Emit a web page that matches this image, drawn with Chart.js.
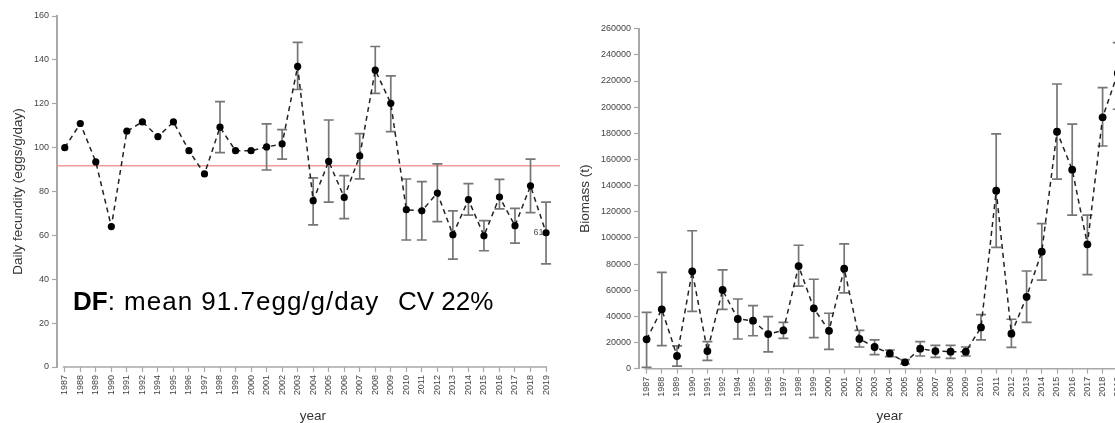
<!DOCTYPE html>
<html>
<head>
<meta charset="utf-8">
<script src="https://cdn.jsdelivr.net/npm/chart.js@4"></script>
<style>
  html, body { margin: 0; padding: 0; background: #fff; }
  body { width: 1115px; height: 423px; overflow: hidden; position: relative; }
  #left { position: absolute; left: 0; top: 0; }
  #right { position: absolute; left: 560px; top: 0; }
</style>
</head>
<body>
<canvas id="left" width="560" height="423"></canvas>
<canvas id="right" width="600" height="423"></canvas>
<script>
// survey years (1993 not sampled)
const years = ["1987", "1988", "1989", "1990", "1991", "1992", "1994", "1995",
  "1996", "1997", "1998", "1999", "2000", "2001", "2002", "2003", "2004", "2005",
  "2006", "2007", "2008", "2009", "2010", "2011", "2012", "2013", "2014", "2015",
  "2016", "2017", "2018", "2019"];

// daily fecundity (eggs/g/day)
const fecundity = [100, 111, 93.5, 64, 107.5, 111.7, 105, 111.7, 98.6, 88,
  109.3, 98.6, 98.6, 100.3, 101.7, 137, 75.8, 93.7, 77.3, 96.2, 135.3, 120.2,
  71.7, 71.2, 79.3, 60.3, 76.3, 59.8, 77.5, 64.4, 82.6, 61.2];
const fecundityHi = [null, null, null, null, null, null, null, null, null, null,
  121, null, null, 110.8, 108.2, 148, 86.2, 112.6, 87.2, 106.4, 146.1, 132.7,
  85.7, 84.5, 92.6, 71.2, 83.6, 66.7, 85.5, 72.3, 94.8, 75.2];
const fecundityLo = [null, null, null, null, null, null, null, null, null, null,
  97.7, null, null, 89.8, 94.8, 126.5, 64.8, 75.2, 67.6, 85.8, 124.7, 107.3,
  57.9, 57.9, 66.3, 49.2, 69.2, 53, 72.1, 56.5, 70.4, 47];
const fecundityMean = 91.7;

// spawning biomass (t)
const biomass = [22500, 45400, 9700, 74500, 13500, 60200, 38000, 36700, 26500,
  29300, 78500, 46200, 29000, 76500, 22800, 16600, 11700, 4900, 15300, 13500,
  13000, 13000, 31600, 136100, 26800, 55000, 89500, 181200, 152200, 95100,
  192200, 226000];
const biomassHi = [43100, 73700, 17400, 105500, 20700, 75500, 53300, 48200,
  39800, 35500, 94400, 68400, 42400, 95400, 29300, 22000, 14300, 6900, 20700,
  17900, 17900, 16600, 41300, 179500, 37800, 74700, 110900, 217700, 187100,
  117500, 214900, 249300];
const biomassLo = [1000, 17600, 2000, 43900, 6400, 45400, 22700, 25200, 12800,
  23200, 63200, 23700, 14800, 58000, 16600, 10700, 9200, 3600, 9700, 8700, 7900,
  9700, 22000, 92800, 16300, 35500, 67800, 145000, 117500, 71900, 170300, 198400];

Chart.defaults.font.family = "'Liberation Sans', Arial, sans-serif";
Chart.defaults.color = "#333";

const AXIS = "#a8a8a8";

// vertical error bars with caps, drawn under the line
const errorBars = {
  id: "errorBars",
  beforeDatasetsDraw(chart, args, opts) {
    const { ctx, scales: { x, y } } = chart;
    ctx.save();
    ctx.strokeStyle = "#767676";
    ctx.lineWidth = 1.7;
    opts.hi.forEach((hi, i) => {
      const lo = opts.lo[i];
      if (hi == null || lo == null) return;
      const px = x.getPixelForValue(i);
      const yt = y.getPixelForValue(hi);
      const yb = y.getPixelForValue(lo);
      ctx.beginPath();
      ctx.moveTo(px, yt); ctx.lineTo(px, yb);
      ctx.moveTo(px - 5, yt); ctx.lineTo(px + 5, yt);
      ctx.moveTo(px - 5, yb); ctx.lineTo(px + 5, yb);
      ctx.stroke();
    });
    ctx.restore();
  },
};

// x axis line running between first and last tick, plus the "year" title
const xAxisLine = {
  id: "xAxisLine",
  afterDraw(chart) {
    const { ctx, chartArea, scales: { x } } = chart;
    const x0 = x.getPixelForValue(0) - 2;
    const x1 = x.getPixelForValue(years.length - 1) + 1;
    ctx.save();
    ctx.strokeStyle = AXIS;
    ctx.lineWidth = 1.5;
    ctx.beginPath();
    ctx.moveTo(x0, chartArea.bottom);
    ctx.lineTo(x1, chartArea.bottom);
    ctx.stroke();

    ctx.fillStyle = "#333";
    ctx.font = "13.5px 'Liberation Sans', Arial";
    ctx.textAlign = "center";
    ctx.textBaseline = "alphabetic";
    ctx.fillText("year", (x0 + x1) / 2 + 8, 420);
    ctx.restore();
  },
};

const meanLine = {
  id: "meanLine",
  beforeDatasetsDraw(chart) {
    const { ctx, chartArea, scales: { y } } = chart;
    const py = y.getPixelForValue(fecundityMean);
    ctx.save();
    ctx.strokeStyle = "#f29a9a";
    ctx.lineWidth = 1.5;
    ctx.beginPath();
    ctx.moveTo(chartArea.left, py);
    ctx.lineTo(chartArea.right + 16, py);
    ctx.stroke();
    ctx.restore();
  },
};

const dfNote = {
  id: "dfNote",
  afterDraw(chart) {
    const { ctx, scales: { x, y } } = chart;
    ctx.save();
    ctx.fillStyle = "#000";
    ctx.textBaseline = "alphabetic";
    ctx.font = "bold 26px 'Liberation Sans', Arial";
    ctx.fillText("DF", 73, 310);
    const w = ctx.measureText("DF").width;
    ctx.font = "26px 'Liberation Sans', Arial";
    ctx.letterSpacing = "1px";
    ctx.fillText(": mean 91.7egg/g/day", 73 + w, 310);
    ctx.letterSpacing = "0px";
    ctx.fillText("CV 22%", 398, 310);

    // last year's value label
    const last = years.length - 1;
    ctx.font = "9px 'Liberation Sans', Arial";
    ctx.fillStyle = "#555";
    ctx.textAlign = "right";
    ctx.textBaseline = "middle";
    ctx.fillText("61", x.getPixelForValue(last) - 2.5, y.getPixelForValue(fecundity[last]));
    ctx.restore();
  },
};

function axes(opts) {
  return {
    x: {
      type: "category",
      offset: true,
      grid: { drawOnChartArea: false, tickLength: 5, tickColor: AXIS, tickWidth: 1.2 },
      border: { display: false },
      ticks: { autoSkip: false, minRotation: 90, maxRotation: 90, padding: 3, font: { size: 9 }, color: "#444" },
      afterFit(s) { s.height = opts.xHeight; s.paddingLeft = 0; s.paddingRight = 0; },
    },
    y: {
      min: 0,
      max: opts.max,
      grid: { drawOnChartArea: false, tickLength: 5, tickColor: AXIS, tickWidth: 1.2 },
      border: { display: true, color: AXIS, width: 2 },
      ticks: { stepSize: opts.step, padding: 3, font: { size: 9 }, color: "#444", callback: (v) => String(v) },
      title: { display: true, text: opts.title, font: { size: 13.5 }, padding: { top: opts.titlePad, bottom: 0 } },
      afterFit(s) { s.width = opts.yWidth; },
    },
  };
}

function series(values, radius) {
  return {
    data: values,
    borderColor: "#222",
    borderWidth: 1.5,
    borderDash: [5, 4],
    pointRadius: radius,
    pointBackgroundColor: "#000",
    pointBorderWidth: 0,
    tension: 0,
  };
}

new Chart(document.getElementById("left").getContext("2d"), {
  type: "line",
  data: { labels: years, datasets: [series(fecundity, 3.6)] },
  options: {
    responsive: false,
    animation: false,
    layout: { padding: { top: 16, right: 6.2, bottom: 0, left: 0 } },
    scales: axes({ max: 160, step: 20, title: "Daily fecundity (eggs/g/day)", titlePad: 10, yWidth: 57, xHeight: 56 }),
    plugins: {
      legend: { display: false },
      tooltip: { enabled: false },
      errorBars: { hi: fecundityHi, lo: fecundityLo },
    },
  },
  plugins: [meanLine, errorBars, xAxisLine, dfNote],
});

new Chart(document.getElementById("right").getContext("2d"), {
  type: "line",
  data: { labels: years, datasets: [series(biomass, 3.9)] },
  options: {
    responsive: false,
    animation: false,
    layout: { padding: { top: 28.7, right: 34.6, bottom: 0, left: 0 } },
    scales: axes({ max: 260000, step: 20000, title: "Biomass (t)", titlePad: 17, yWidth: 79, xHeight: 54.3 }),
    plugins: {
      legend: { display: false },
      tooltip: { enabled: false },
      errorBars: { hi: biomassHi, lo: biomassLo },
    },
  },
  plugins: [errorBars, xAxisLine],
});
</script>
</body>
</html>
